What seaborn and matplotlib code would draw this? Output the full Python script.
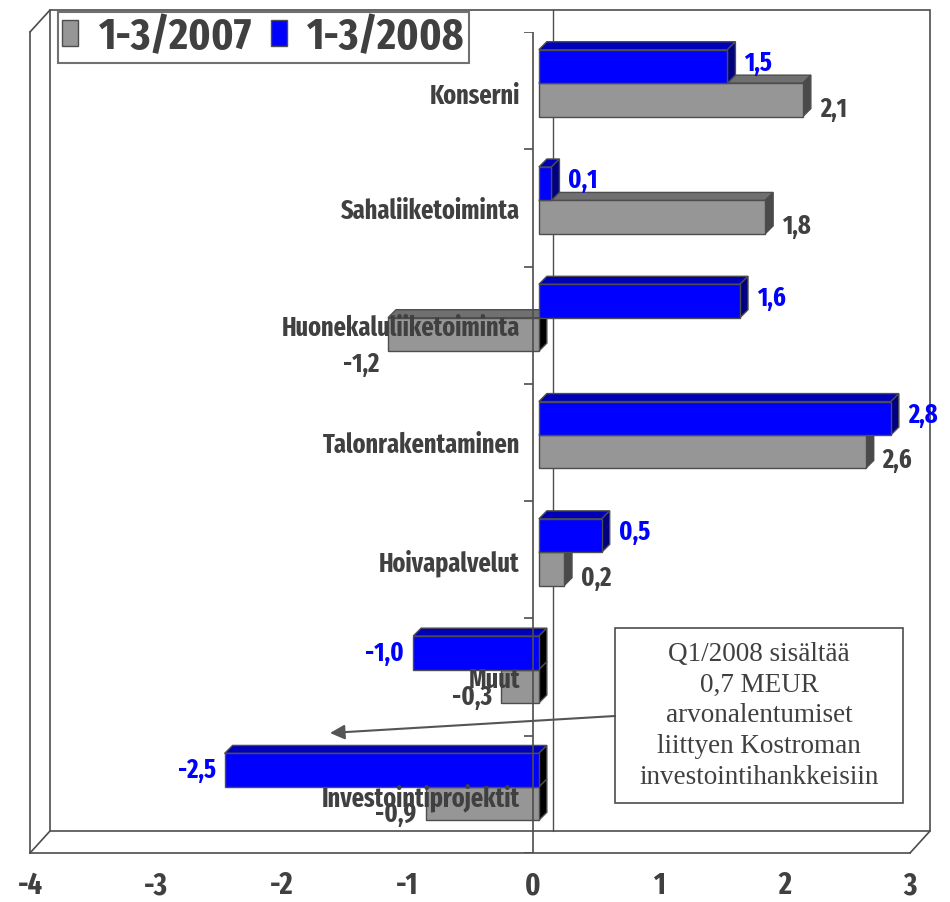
import matplotlib
matplotlib.use("Agg")
import matplotlib.pyplot as plt
import seaborn as sns
import pandas as pd
from matplotlib.patches import Polygon, Rectangle
from matplotlib.lines import Line2D
from matplotlib.transforms import ScaledTranslation

categories = ["Konserni", "Sahaliiketoiminta", "Huonekaluliiketoiminta",
              "Talonrakentaminen", "Hoivapalvelut", "Muut", "Investointiprojektit"]
periods = ["1-3/2007", "1-3/2008"]
values_2007 = [2.1, 1.8, -1.2, 2.6, 0.2, -0.3, -0.9]
values_2008 = [1.5, 0.1, 1.6, 2.8, 0.5, -1.0, -2.5]
x_ticks = [-4, -3, -2, -1, 0, 1, 2, 3]
note_lines = ["Q1/2008 sisältää", "0,7 MEUR", "arvonalentumiset",
              "liittyen Kostroman", "investointihankkeisiin"]

df = pd.DataFrame({
    "category": categories * 2,
    "period": [periods[0]] * len(categories) + [periods[1]] * len(categories),
    "value": values_2007 + values_2008,
})

GRAY, BLUE = "#969696", "#0000ff"
TEXT = "#404040"
LINE = "#4d4d4d"
W, H = 950, 902
PT = 0.72  # points per pixel at dpi 100

sns.set_style("white")
plt.rcParams["font.family"] = ["Fira Sans Extra Condensed", "DejaVu Sans"]
plt.rcParams["font.weight"] = "bold"

fig = plt.figure(figsize=(9.5, 9.02), dpi=100)
ax = fig.add_axes([30 / W, (H - 853) / H, 880 / W, 821 / H])
ax.patch.set_alpha(0)

sns.barplot(data=df, x="value", y="category", hue="period", order=categories,
            hue_order=periods[::-1], palette={periods[0]: GRAY, periods[1]: BLUE},
            orient="h", width=0.57, edgecolor=LINE, linewidth=1.0, saturation=1,
            errorbar=None, legend=False, ax=ax)
ax.set_xlim(-4, 3)
ax.set_ylim(len(categories) - 0.5, -0.5)
ax.set_xlabel("")
ax.set_ylabel("")


def shifted(px, py):
    return ax.transData + ScaledTranslation(px / 100, py / 100, fig.dpi_scale_trans)


bar_tr = shifted(6, 7.5)
wall_tr = shifted(20, 22)

o = ax.transData.transform((0, 0))
u = ax.transData.transform((1, 1))
ppx, ppy = u[0] - o[0], o[1] - u[1]
DEPTH = 8
ddx, ddy = DEPTH / ppx, -DEPTH / ppy

# pseudo 3D faces
faces = {BLUE: ("#0000b8", "#000080"), GRAY: ("#707070", "#4a4a4a")}
for level, cont in zip(periods[::-1], ax.containers):
    col = BLUE if level == periods[1] else GRAY
    z = 2.3 if col == BLUE else 2.0
    for p in cont.patches:
        w, y, h = p.get_width(), p.get_y(), p.get_height()
        a, b = min(0, w), max(0, w)
        top = [(a, y), (b, y), (b + ddx, y + ddy), (a + ddx, y + ddy)]
        side = [(b, y), (b, y + h), (b + ddx, y + h + ddy), (b + ddx, y + ddy)]
        side_col = "black" if w < 0 else faces[col][1]
        ax.add_patch(Polygon(top, closed=True, fc=faces[col][0], ec=LINE, lw=1.0,
                             transform=bar_tr, zorder=z, clip_on=False))
        ax.add_patch(Polygon(side, closed=True, fc=side_col, ec=LINE, lw=1.0,
                             transform=bar_tr, zorder=z, clip_on=False))
        p.set_transform(bar_tr)
        p.set_zorder(z + 0.1)
        p.set_clip_on(False)

        # value labels
        yc = y + h / 2
        txt = f"{w:.1f}".replace(".", ",")
        tcol = BLUE if col == BLUE else TEXT
        if w >= 0:
            dx, ha = 17, "left"
            dy = 3 if col == BLUE else -9
        else:
            dx, ha = -9, "right"
            dy = 0 if col == BLUE else -11
            if col == GRAY and abs(w) > 1:
                dy = -30
        ax.annotate(txt, xy=(w, yc), xycoords=bar_tr, xytext=(dx * PT, dy * PT),
                    textcoords="offset points", ha=ha, va="center", fontsize=19,
                    fontweight="bold", color=tcol, zorder=10, annotation_clip=False)

# category labels
for i, cat in enumerate(categories):
    dy = -6 if i == 0 else -3
    ax.annotate(cat, xy=(0, i), xycoords="data", xytext=(-13 * PT, dy * PT),
                textcoords="offset points", ha="right", va="center", fontsize=19,
                fontweight="bold", color=TEXT, zorder=11)

# axes lines and ticks
bounds = [i - 0.5 for i in range(len(categories) + 1)]
for s in ["top", "right"]:
    ax.spines[s].set_visible(False)
for s in ["left", "bottom"]:
    ax.spines[s].set_color(LINE)
    ax.spines[s].set_linewidth(1.2)
ax.set_yticks(bounds)
ax.set_yticklabels([])
ax.tick_params(axis="y", length=9 * PT, width=1.2, color=LINE, direction="out")
ax.set_xticks(x_ticks)
ax.set_xticklabels([str(t) for t in x_ticks])
ax.tick_params(axis="x", length=13 * PT, width=1.2, color=LINE, direction="out",
               pad=5 * PT, labelsize=22, labelcolor=TEXT)
for lbl in ax.get_xticklabels():
    lbl.set_fontweight("bold")

ax.axvline(0, color=LINE, lw=1.2, zorder=2.6)
ax.hlines(bounds, -9 / ppx, 0, color=LINE, lw=1.2, zorder=2.6)

# back wall, floor and side edges
ax.add_patch(Rectangle((-4, -0.5), 7, len(categories), transform=wall_tr, fill=False,
                       ec=LINE, lw=1.2, zorder=0.5, clip_on=False))
ax.plot([0, 0], [-0.5, len(categories) - 0.5], transform=wall_tr, color=LINE,
        lw=1.0, zorder=0.6, clip_on=False)
inv = fig.transFigure.inverted()
for c in [(-4, -0.5), (-4, len(categories) - 0.5), (3, len(categories) - 0.5)]:
    p0 = inv.transform(ax.transData.transform(c))
    p1 = inv.transform(wall_tr.transform(c))
    fig.add_artist(Line2D([p0[0], p1[0]], [p0[1], p1[1]], color=LINE, lw=1.2))

# legend
handles = [Rectangle((0, 0), 1, 1, fc=GRAY, ec=LINE, lw=1.0),
           Rectangle((0, 0), 1, 1, fc=BLUE, ec=LINE, lw=1.0)]
leg = fig.legend(handles, periods, loc="upper left", bbox_to_anchor=(58 / W, 1 - 12 / H),
                 ncol=2, frameon=True, fancybox=False, fontsize=32, handlelength=0.36,
                 handleheight=0.52, handletextpad=0.45, columnspacing=0.43,
                 borderpad=0.1, borderaxespad=0)
leg.get_frame().set_edgecolor(LINE)
leg.get_frame().set_linewidth(1.5)
for t in leg.get_texts():
    t.set_color(TEXT)
    t.set_fontweight("bold")

# note box with arrow
fig.text(759 / W, 1 - 716 / H, "\n".join(note_lines), ha="center", va="center",
         family="Liberation Serif", fontweight="normal", fontsize=19.5, color=TEXT,
         linespacing=1.3)
fig.add_artist(Rectangle((615 / W, 1 - 803 / H), 288 / W, 175 / H,
                         transform=fig.transFigure, fill=False, ec=LINE, lw=1.2))
ax.annotate("", xy=(330, H - 733), xycoords="figure pixels",
            xytext=(615, H - 716), textcoords="figure pixels",
            arrowprops=dict(arrowstyle="-|>", color="#555555", lw=1.5,
                            mutation_scale=22, shrinkA=0, shrinkB=0))

fig.savefig("out.png", dpi=100)
